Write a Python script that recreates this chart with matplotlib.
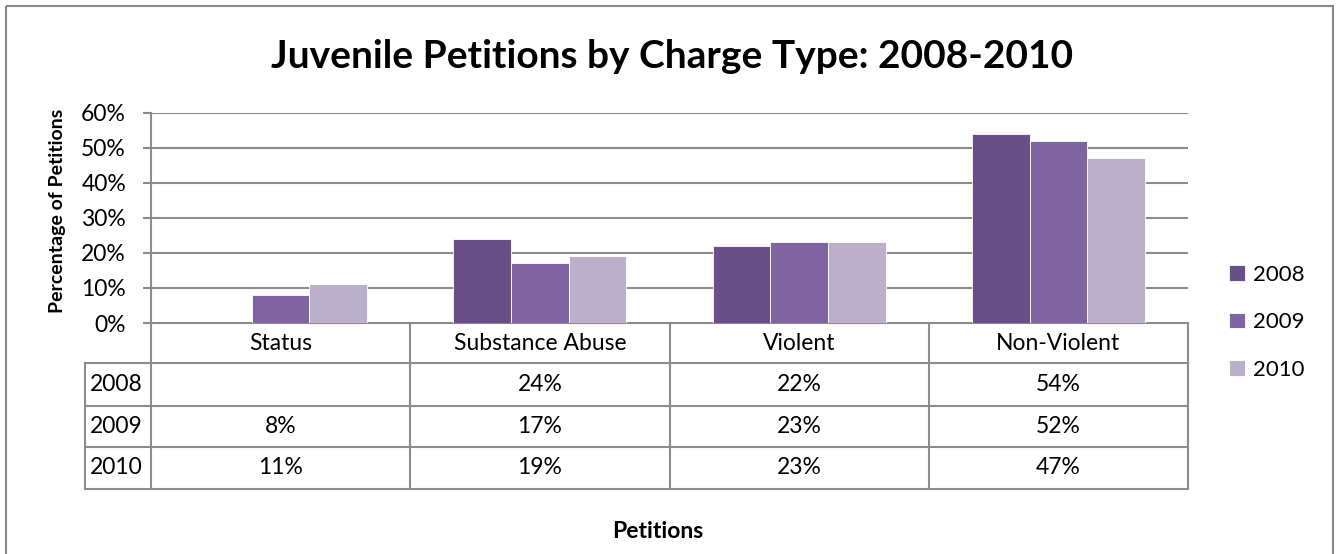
import matplotlib
matplotlib.use("Agg")
import matplotlib.pyplot as plt
import numpy as np
from matplotlib.patches import Rectangle

plt.rcParams['font.family'] = ['Lato', 'DejaVu Sans']

# data
categories = ['Status', 'Substance Abuse', 'Violent', 'Non-Violent']
years = ['2008', '2009', '2010']
values = {
    '2008': [None, 0.24, 0.22, 0.54],
    '2009': [0.08, 0.17, 0.23, 0.52],
    '2010': [0.11, 0.19, 0.23, 0.47],
}
colors = ['#684F88', '#8064A2', '#BAB0CB']
yticks = [0, 0.1, 0.2, 0.3, 0.4, 0.5, 0.6]

W, H = 1339, 554
fig = plt.figure(figsize=(W / 100, H / 100), dpi=100)
fs = 16.5

# plot area in pixels
px0, px1 = 151, 1188
py_top, py_zero = 112.5, 323
ax = fig.add_axes([px0 / W, 1 - py_zero / H, (px1 - px0) / W, (py_zero - py_top) / H])

grid_c = '#8C8C8C'
n = len(categories)
x = np.arange(n)
bw = 1 / 4.5
for i, yr in enumerate(years):
    vals = [v if v is not None else 0 for v in values[yr]]
    ax.bar(x + (i - 1) * bw, vals, width=bw, color=colors[i], edgecolor='white',
           linewidth=0.6, zorder=3, label=yr)

ax.set_xlim(-0.5, n - 0.5)
ax.set_ylim(0, 0.6)
ax.set_yticks(yticks)
ax.set_yticklabels([f'{int(round(t * 100))}%' for t in yticks], fontsize=fs)
ax.set_xticks([])
ax.yaxis.grid(True, color=grid_c, linewidth=1.5, zorder=0)
for s in ['top', 'right', 'bottom']:
    ax.spines[s].set_visible(False)
ax.spines['left'].set_color(grid_c)
ax.spines['left'].set_linewidth(1.5)
ax.tick_params(axis='y', length=6, width=1.5, color=grid_c, pad=12)

# overlay in pixel coordinates for the data table, title, border
ov = fig.add_axes([0, 0, 1, 1], zorder=-1)
ov.set_xlim(0, W)
ov.set_ylim(H, 0)
ov.axis('off')

ov.add_patch(Rectangle((6, 6), 1327, 560, fill=False, edgecolor='#888888', linewidth=1.5))
ov.text(672, 56, 'Juvenile Petitions by Charge Type: 2008-2010', fontsize=28,
        fontweight='bold', ha='center', va='center')
ov.text(658, 531, 'Petitions', fontsize=fs, fontweight='bold', ha='center', va='center')
ov.text(57, 211, 'Percentage of Petitions', fontsize=14, fontweight='bold',
        rotation=90, ha='center', va='center')

lab_x0 = 85
rows_y = [323, 363, 406, 447, 489]
colw = (px1 - px0) / n
col_edges = [px0 + k * colw for k in range(n + 1)]
lc = '#8C8C8C'
lw = 1.5
# horizontal lines
ov.plot([px0, px1], [rows_y[0], rows_y[0]], color=lc, lw=lw)
for yy in rows_y[1:]:
    ov.plot([lab_x0, px1], [yy, yy], color=lc, lw=lw)
# vertical lines
for xe in col_edges:
    ov.plot([xe, xe], [rows_y[0], rows_y[-1]], color=lc, lw=lw)
ov.plot([lab_x0, lab_x0], [rows_y[1], rows_y[-1]], color=lc, lw=lw)

for k, cat in enumerate(categories):
    cx = (col_edges[k] + col_edges[k + 1]) / 2
    ov.text(cx, (rows_y[0] + rows_y[1]) / 2, cat, fontsize=fs, ha='center', va='center')
for r, yr in enumerate(years):
    cy = (rows_y[r + 1] + rows_y[r + 2]) / 2
    ov.text(lab_x0 + 5, cy, yr, fontsize=fs, ha='left', va='center')
    for k, v in enumerate(values[yr]):
        if v is None:
            continue
        cx = (col_edges[k] + col_edges[k + 1]) / 2
        ov.text(cx, cy, f'{int(round(v * 100))}%', fontsize=fs, ha='center', va='center')

# legend
handles, labels = ax.get_legend_handles_labels()
fig.legend(handles, labels, loc='upper left', bbox_to_anchor=(1220 / W, 1 - 256 / H),
           frameon=False, fontsize=16, handlelength=0.72, handleheight=0.72,
           handletextpad=0.35, labelspacing=1.23, borderaxespad=0)

fig.savefig('out.png', dpi=100)
